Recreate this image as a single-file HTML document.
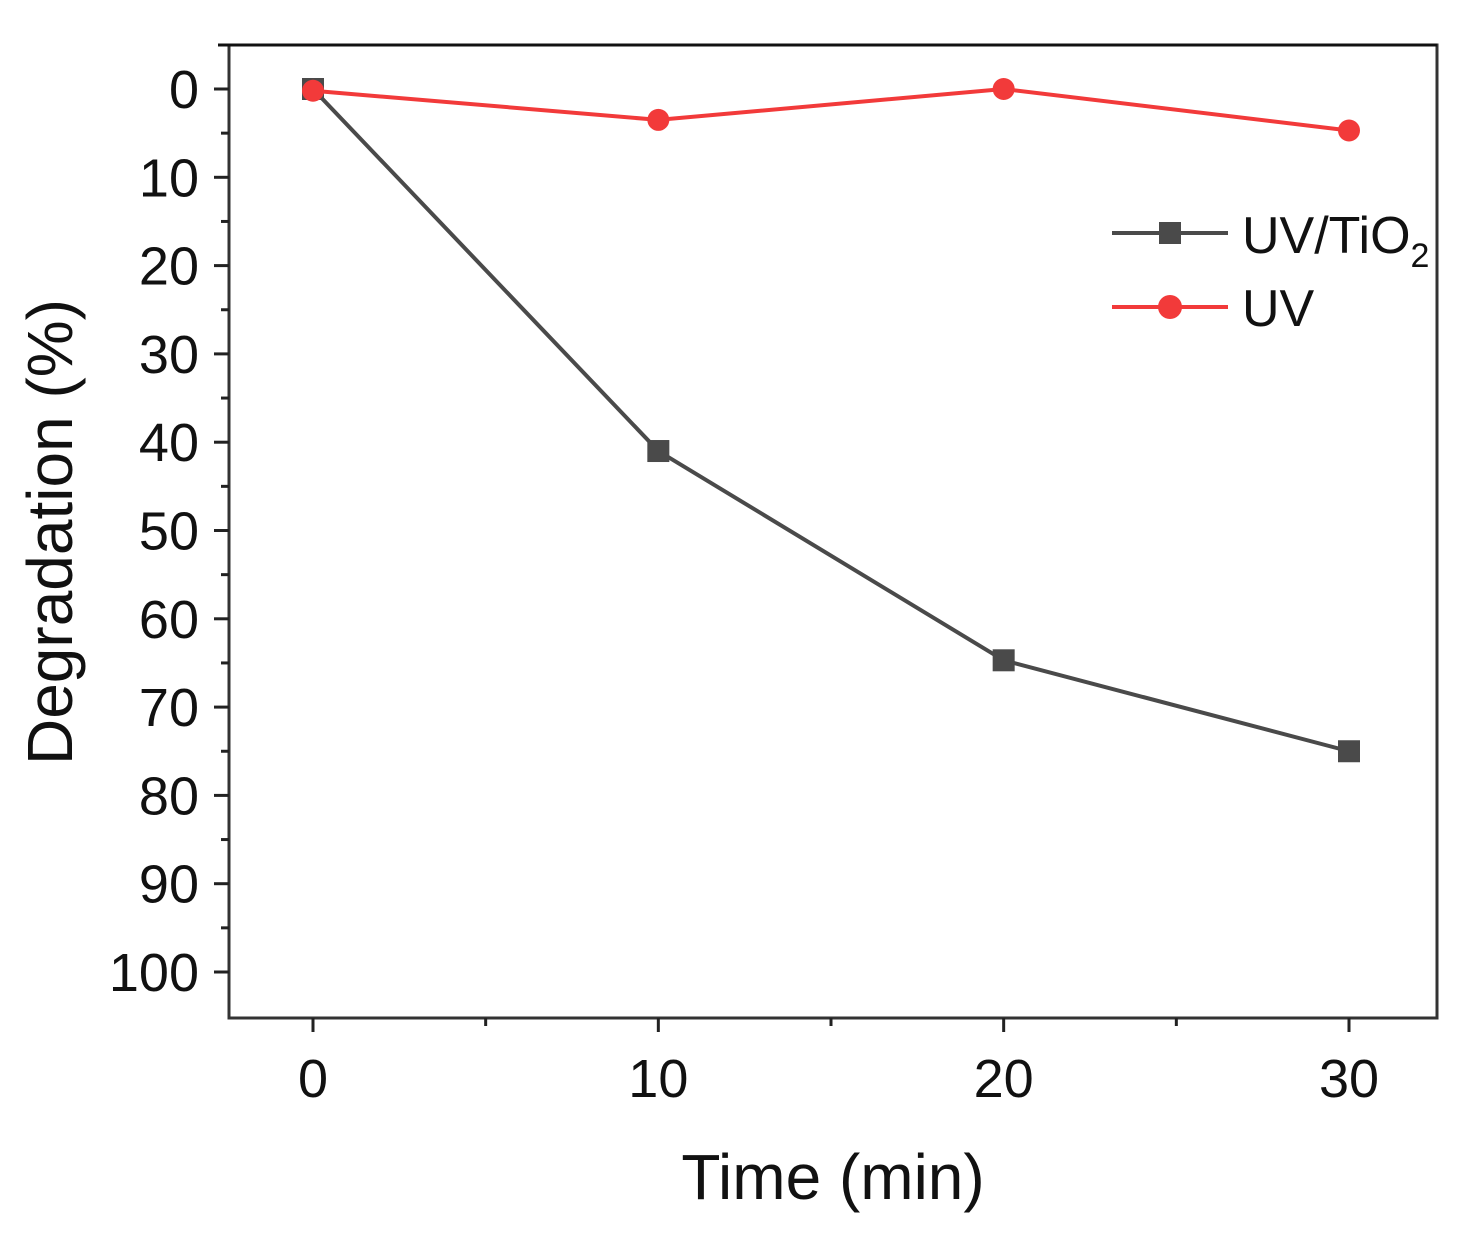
<!DOCTYPE html>
<html><head><meta charset="utf-8"><style>
html,body{margin:0;padding:0;background:#fff;}
svg{display:block;font-family:"Liberation Sans",Arial,sans-serif;}
</style></head><body>
<svg id="chart" width="1457" height="1239" viewBox="0 0 1457 1239">
<g id="frame"></g><g id="axes"></g><g id="series"></g><g id="legend"></g>
</svg>
<script>
const times = [0, 10, 20, 30];
const uvTio2 = [0, 41, 64.7, 75];
const uv = [0.2, 3.5, 0, 4.7];
const yTicks = [0,10,20,30,40,50,60,70,80,90,100];
const xTicks = [0,10,20,30];
const NS='http://www.w3.org/2000/svg';
const X0=229,X1=1437,Y0=45,Y1=1018;
const xs=v=>313+(v-0)*(1349-313)/30;
const ys=v=>89+v*(972-89)/100;
function mk(tag,attrs,parent){const e=document.createElementNS(NS,tag);for(const k in attrs)e.setAttribute(k,attrs[k]);parent.appendChild(e);return e;}
const frame=document.getElementById('frame'),axes=document.getElementById('axes'),ser=document.getElementById('series'),leg=document.getElementById('legend');
let f=mk('rect',{x:X0,y:Y0,width:X1-X0,height:Y1-Y0,fill:'none',stroke:'#333',"stroke-width":3},frame);


let tl=mk('line',{x1:218,y1:Y0,x2:X1,y2:Y0,stroke:'#111','stroke-width':3},frame);


yTicks.forEach((t,i)=>{
 const y=ys(t);
 let l=mk('line',{x1:X0-15,y1:y,x2:X0,y2:y,stroke:'#222','stroke-width':3},axes);
 
 
 if(i<yTicks.length-1){const ym=ys(t+5);let m=mk('line',{x1:X0-8,y1:ym,x2:X0,y2:ym,stroke:'#222','stroke-width':3},axes);
 
 }
 let tx=mk('text',{x:X0-30,y:y+19,'text-anchor':'end','font-size':54,fill:'#111'},axes);tx.textContent=t;
 
 
});
xTicks.forEach((t,i)=>{
 const x=xs(t);
 let l=mk('line',{x1:x,y1:Y1,x2:x,y2:Y1+14,stroke:'#222','stroke-width':3},axes);
 
 
 if(i<xTicks.length-1){const xm=xs(t+5);let m=mk('line',{x1:xm,y1:Y1,x2:xm,y2:Y1+8,stroke:'#222','stroke-width':3},axes);
 
 }
 let tx=mk('text',{x:x,y:1097,'text-anchor':'middle','font-size':54,fill:'#111'},axes);tx.textContent=t;
 
 
});
let xt=mk('text',{x:833,y:1199,'text-anchor':'middle','font-size':64,fill:'#111'},axes);xt.textContent='Time (min)';


let yt=mk('text',{x:0,y:0,'text-anchor':'middle','font-size':64,fill:'#111',transform:'translate(72,532) rotate(-90)'},axes);yt.textContent='Degradation (%)';


function line(vals,color,name,marker){
 const pts=times.map((t,i)=>xs(t)+','+ys(vals[i])).join(' ');
 let p=mk('polyline',{points:pts,fill:'none',stroke:color,'stroke-width':4},ser);
 
 
 times.forEach((t,i)=>{
  let m;
  if(marker==='sq')m=mk('rect',{x:xs(t)-11,y:ys(vals[i])-11,width:22,height:22,fill:color},ser);
  else m=mk('circle',{cx:xs(t),cy:ys(vals[i]),r:11,fill:color},ser);
  
  
 });
}
line(uvTio2,'#4a4a4a','uv-tio2','sq');
line(uv,'#f23a3a','uv','ci');
let l1=mk('line',{x1:1112,y1:233,x2:1228,y2:233,stroke:'#4a4a4a','stroke-width':4},leg);


let m1=mk('rect',{x:1159,y:222,width:22,height:22,fill:'#4a4a4a'},leg);


let t1=mk('text',{x:1242,y:253,'font-size':52,fill:'#111'},leg);
t1.innerHTML='UV/TiO<tspan font-size="34" dy="14">2</tspan>';


let l2=mk('line',{x1:1112,y1:307,x2:1228,y2:307,stroke:'#f23a3a','stroke-width':4},leg);


let m2=mk('circle',{cx:1170,cy:307,r:12,fill:'#f23a3a'},leg);


let t2=mk('text',{x:1242,y:326,'font-size':52,fill:'#111'},leg);t2.textContent='UV';


</script>
</body></html>
